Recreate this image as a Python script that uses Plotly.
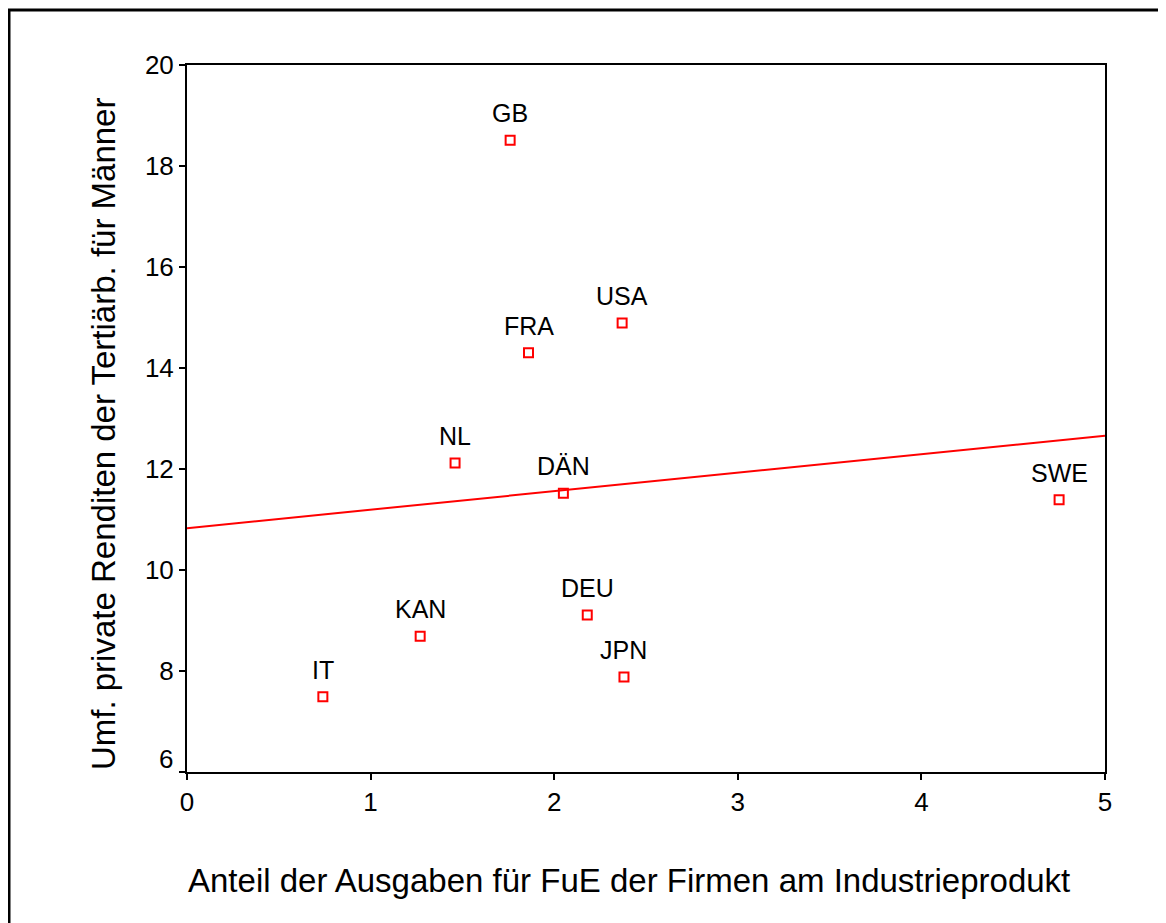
import numpy as np
import plotly.graph_objects as go

# ── Data ───────────────────────────────────────────────────────────────────
countries = ["GB", "USA", "FRA", "NL", "DÄN", "SWE", "DEU", "KAN", "JPN", "IT"]
fue_share = [1.76, 2.37, 1.86, 1.46, 2.05, 4.75, 2.18, 1.27, 2.38, 0.74]
returns_men = [18.51, 14.89, 14.30, 12.12, 11.52, 11.39, 9.11, 8.69, 7.88, 7.49]

x_ticks = [0, 1, 2, 3, 4, 5]
y_ticks = [6, 8, 10, 12, 14, 16, 18, 20]

RED = "#ff0000"
FONT = "Liberation Sans, Arial, sans-serif"

# linear fit across the full x range
slope, intercept = np.polyfit(fue_share, returns_men, 1)
fit_x = [x_ticks[0], x_ticks[-1]]
fit_y = [intercept + slope * v for v in fit_x]

fig = go.Figure()

fig.add_trace(go.Scatter(
    x=fit_x, y=fit_y,
    mode="lines",
    line=dict(color=RED, width=2),
    hoverinfo="skip",
))

fig.add_trace(go.Scatter(
    x=fue_share, y=returns_men,
    mode="markers",
    marker=dict(symbol="square-open", size=9, color=RED, line=dict(color=RED, width=2)),
    text=countries,
))

for name, xv, yv in zip(countries, fue_share, returns_men):
    fig.add_annotation(
        x=xv, y=yv, text=name,
        showarrow=False, yshift=27,
        font=dict(family=FONT, size=25, color="black"),
    )

# lowest y tick label sits a little above its tick in the original
fig.add_annotation(
    xref="paper", x=0, y=y_ticks[0], text=str(y_ticks[0]),
    showarrow=False, xanchor="right", xshift=-12, yshift=13,
    font=dict(family=FONT, size=26, color="black"),
)

# axis titles as annotations so they can be placed freely
fig.add_annotation(
    xref="paper", yref="paper", x=0.482, y=-0.1528,
    text="Anteil der Ausgaben für FuE der Firmen am Industrieprodukt",
    showarrow=False, xanchor="center", yanchor="middle",
    font=dict(family=FONT, size=33, color="black"),
)
fig.add_annotation(
    xref="paper", yref="paper", x=-0.0915, y=0.478,
    text="Umf. private Renditen der Tertiärb. für Männer",
    textangle=-90, showarrow=False, xanchor="center", yanchor="middle",
    font=dict(family=FONT, size=33, color="black"),
)

# outer frame (runs off the right and bottom edges like the source image)
fig.add_shape(
    type="rect", xref="paper", yref="paper",
    x0=-0.1939, x1=1.09, y0=-0.25, y1=1.0778,
    line=dict(color="black", width=3),
    layer="below",
)

axis_common = dict(
    showgrid=False, zeroline=False,
    showline=True, linecolor="black", linewidth=2, mirror=True,
    ticks="outside", ticklen=6, tickwidth=2, tickcolor="black",
    tickfont=dict(family=FONT, size=26, color="black"),
)

# page body has an 8px margin, so the figure is sized to land on the window
fig.update_layout(
    width=1158, height=915,
    paper_bgcolor="white", plot_bgcolor="white",
    showlegend=False,
    font=dict(family=FONT, color="black"),
    margin=dict(l=179, r=61, t=57, b=151),
    xaxis=dict(range=[0, 5], tickvals=x_ticks, **axis_common),
    yaxis=dict(
        range=[6, 20], tickvals=y_ticks,
        ticktext=[""] + [str(v) for v in y_ticks[1:]],
        **axis_common,
    ),
)

fig.write_html("out.html")
